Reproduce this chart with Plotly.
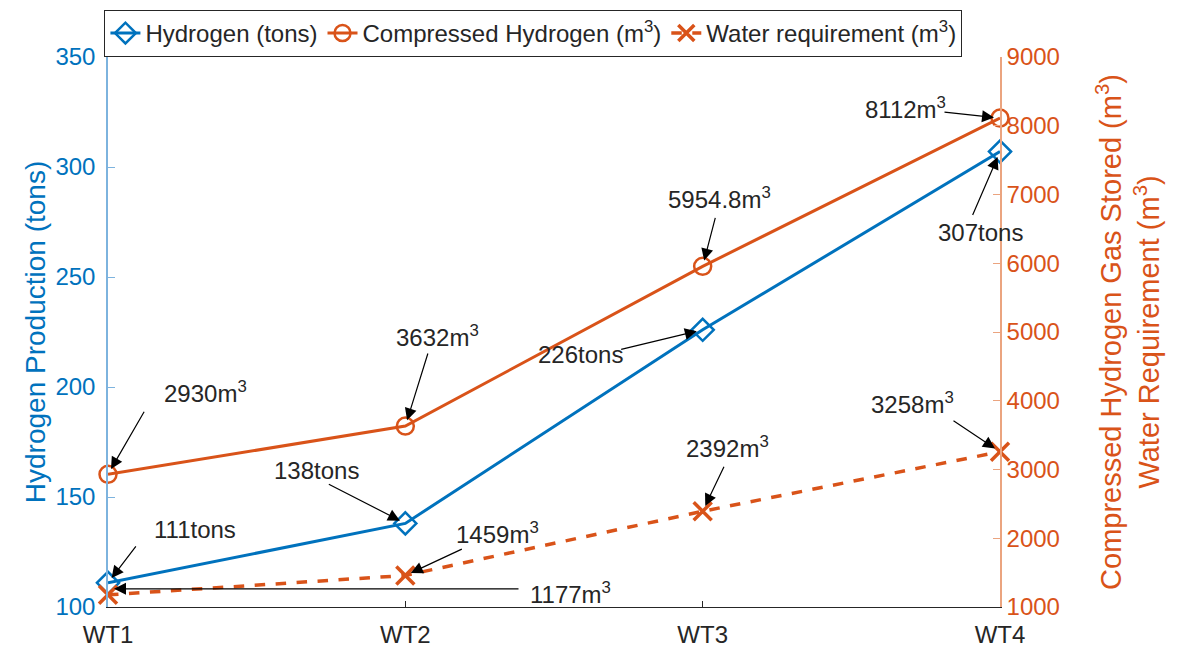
import plotly.graph_objects as go

# ---------------- data ----------------
categories = ["WT1", "WT2", "WT3", "WT4"]
hydrogen_tons = [111, 138, 226, 307]
compressed_m3 = [2930, 3632, 5954.8, 8112]
water_m3 = [1177, 1459, 2392, 3258]

series_names = ["Hydrogen (tons)", "Compressed Hydrogen (m<sup>3</sup>)", "Water requirement (m<sup>3</sup>)"]
left_title = "Hydrogen Production (tons)"
right_title = "Compressed Hydrogen Gas Stored (m<sup>3</sup>)<br>Water Requirement (m<sup>3</sup>)"

# ---------------- styles ----------------
BLUE = "#0072BD"
ORANGE = "#D95319"
DARK = "#262626"
FONT = "Liberation Sans, Arial, Helvetica, sans-serif"

# annotation pixel offsets (arrow tail, text centre) relative to each point
hyd_arrow = [(29, -38), (-78, -40), (-83, 20), (-28, 65)]
hyd_text = [(87, 53), (-89, 53), (-122, -25), (-20, -81)]
comp_arrow = [(37, -64), (23, -74), (13, -50), (-57, -6)]
comp_text = [(97, 82), (32, 90), (17, 68), (-95, 10)]
water_arrow = [(412, 0, 6), (58, -27, 0), (22, -46, 0), (-48, -32, 0)]
water_text = [(462, 2), (92, 42), (25, 64), (-88, 49)]

fig = go.Figure()
fig.add_trace(go.Scatter(
    x=categories, y=hydrogen_tons, name=series_names[0], mode="lines+markers",
    line=dict(color=BLUE, width=3),
    marker=dict(symbol="diamond-open", size=17, color=BLUE, line=dict(width=2.5, color=BLUE)),
    cliponaxis=False, yaxis="y"))
fig.add_trace(go.Scatter(
    x=categories, y=compressed_m3, name=series_names[1], mode="lines+markers",
    line=dict(color=ORANGE, width=3),
    marker=dict(symbol="circle-open", size=17, color=ORANGE, line=dict(width=2.5, color=ORANGE)),
    cliponaxis=False, yaxis="y2"))
fig.add_trace(go.Scatter(
    x=categories, y=water_m3, name=series_names[2], mode="lines+markers",
    line=dict(color=ORANGE, width=3.5, dash="dash"),
    marker=dict(symbol="x-thin-open", size=18, color=ORANGE, line=dict(width=3.5, color=ORANGE)),
    cliponaxis=False, yaxis="y2"))

annotations = []
ARROW = dict(showarrow=True, arrowhead=2, arrowsize=2.0, arrowwidth=1.2, arrowcolor="black",
             standoff=6, text="")
TXT = dict(showarrow=False, font=dict(family=FONT, size=24, color=DARK))


def add_labels(values, yref, arrows, texts, fmt):
    for i, v in enumerate(values):
        a = arrows[i]
        ys = a[2] if len(a) > 2 else 0
        annotations.append(dict(x=i, y=v, xref="x", yref=yref, ax=a[0], ay=a[1], yshift=ys, **ARROW))
        t = texts[i]
        annotations.append(dict(x=i, y=v, xref="x", yref=yref, xshift=t[0], yshift=t[1],
                                text=fmt(v), **TXT))


add_labels(hydrogen_tons, "y", hyd_arrow, hyd_text, lambda v: f"{v:g}tons")
add_labels(compressed_m3, "y2", comp_arrow, comp_text, lambda v: f"{v:g}m<sup>3</sup>")
add_labels(water_m3, "y2", water_arrow, water_text, lambda v: f"{v:g}m<sup>3</sup>")

fig.update_layout(
    width=1178, height=653,
    margin=dict(l=108, r=178, t=57, b=46, autoexpand=False),
    paper_bgcolor="white", plot_bgcolor="white",
    font=dict(family=FONT, color=DARK),
    showlegend=True,
    legend=dict(orientation="h", x=-0.004, xanchor="left", y=1.0, yanchor="bottom",
                bgcolor="white", bordercolor=DARK, borderwidth=1,
                font=dict(family=FONT, size=24, color=DARK)),
    xaxis=dict(type="category", range=[0, 3], showgrid=False, zeroline=False, automargin=False,
               showline=True, linecolor=DARK, linewidth=1,
               ticks="inside", ticklen=6, tickcolor=DARK, ticklabelstandoff=6,
               tickfont=dict(family=FONT, size=24, color=DARK)),
    yaxis=dict(range=[100, 350], dtick=50, showgrid=False, zeroline=False, automargin=False,
               showline=True, linecolor="#7db3de", linewidth=1.5,
               ticks="inside", ticklen=7, tickcolor="#7db3de", ticklabelstandoff=6,
               tickfont=dict(family=FONT, size=24, color=BLUE),
               title=dict(text=left_title, font=dict(family=FONT, size=28, color=BLUE), standoff=2)),
    yaxis2=dict(range=[1000, 9000], dtick=1000, overlaying="y", side="right",
                showgrid=False, zeroline=False, automargin=False,
                showline=True, linecolor="#eba47f", linewidth=1.5,
                ticks="inside", ticklen=7, tickcolor="#eba47f",
                tickfont=dict(family=FONT, size=24, color=ORANGE),
                title=dict(text=right_title, font=dict(family=FONT, size=29, color=ORANGE), standoff=42)),
    annotations=annotations,
)

fig.write_html("out.html")
